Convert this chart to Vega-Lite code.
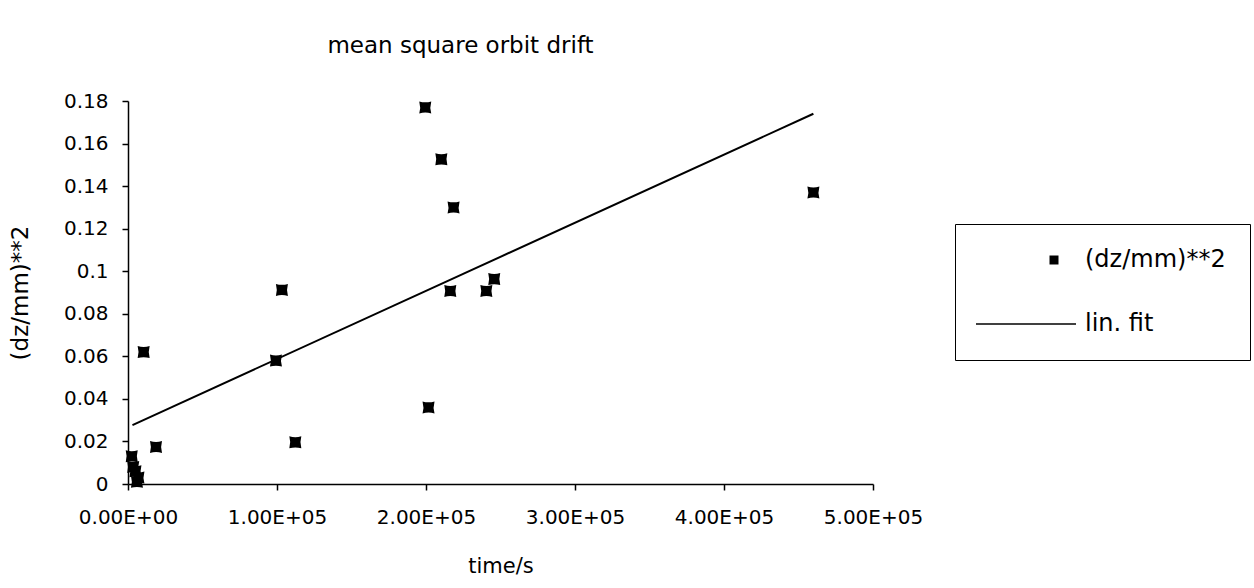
{
  "$schema": "https://vega.github.io/schema/vega-lite/v6.json",
  "width": 745,
  "height": 383,
  "autosize": "none",
  "padding": {"left": 128, "top": 101, "right": 381, "bottom": 104},
  "background": "white",
  "title": {"text": "mean square orbit drift", "font": "DejaVu Sans", "fontSize": 23, "fontWeight": "normal", "color": "black", "anchor": "middle", "dx": -40, "offset": 33},
  "config": {
    "view": {"stroke": null},
    "axis": {"grid": false, "domainColor": "black", "domainWidth": 1.5, "tickColor": "black", "tickWidth": 1.5, "tickSize": 6, "labelFont": "DejaVu Sans", "labelFontSize": 20, "labelColor": "black", "titleFont": "DejaVu Sans", "titleFontSize": 21, "titleFontWeight": "normal", "titleColor": "black"}
  },
  "layer": [
    {
      "data": {"values": [
        {"time": 2500, "msq": 0.013},
        {"time": 3500, "msq": 0.008},
        {"time": 5000, "msq": 0.006},
        {"time": 7000, "msq": 0.003},
        {"time": 6000, "msq": 0.001},
        {"time": 10500, "msq": 0.062},
        {"time": 18800, "msq": 0.0174},
        {"time": 99300, "msq": 0.058},
        {"time": 103300, "msq": 0.0912},
        {"time": 112300, "msq": 0.0196},
        {"time": 199500, "msq": 0.177},
        {"time": 201700, "msq": 0.036},
        {"time": 210300, "msq": 0.1526},
        {"time": 216300, "msq": 0.0907},
        {"time": 218500, "msq": 0.130},
        {"time": 240500, "msq": 0.0907},
        {"time": 245800, "msq": 0.0963},
        {"time": 460000, "msq": 0.137}
      ]},
      "mark": {"type": "point", "shape": "M-1,-1Q0,-0.7,1,-1Q0.7,0,1,1Q0,0.7,-1,1Q-0.7,0,-1,-1Z", "filled": true, "size": 144, "color": "black", "opacity": 1},
      "encoding": {
        "x": {"field": "time", "type": "quantitative", "scale": {"domain": [0, 500000], "nice": false}, "axis": {"title": "time/s", "values": [0, 100000, 200000, 300000, 400000, 500000], "labelExpr": "replace(upper(format(datum.value, '.2e')), 'E+', 'E+0')", "labelPadding": 17, "titlePadding": 28, "labelFlush": false}},
        "y": {"field": "msq", "type": "quantitative", "scale": {"domain": [0, 0.18], "nice": false}, "axis": {"title": "(dz/mm)**2", "titleFontSize": 23, "values": [0, 0.02, 0.04, 0.06, 0.08, 0.1, 0.12, 0.14, 0.16, 0.18], "format": ".2~f", "labelPadding": 14, "titlePadding": 31}}
      }
    },
    {
      "data": {"values": [
        {"time": 3000, "msq": 0.0277},
        {"time": 460000, "msq": 0.174}
      ]},
      "mark": {"type": "line", "color": "black", "strokeWidth": 2},
      "encoding": {
        "x": {"field": "time", "type": "quantitative"},
        "y": {"field": "msq", "type": "quantitative"}
      }
    },
    {
      "data": {"values": [
        {"series": "(dz/mm)**2"},
        {"series": "lin. fit"}
      ]},
      "mark": {"type": "point", "filled": true, "opacity": 0, "color": "black"},
      "encoding": {
        "shape": {"field": "series", "type": "nominal", "scale": {"domain": ["(dz/mm)**2", "lin. fit"], "range": ["M5.85,-0.45H6.75V0.45H5.85Z", "M-1.5,-0.08H8.5V0.08H-1.5Z"]},
          "legend": {"title": null, "orient": "none", "legendX": 827, "legendY": 123, "padding": 24, "strokeColor": "black", "fillColor": "white", "symbolSize": 400, "symbolOpacity": 1, "symbolFillColor": "black", "symbolStrokeColor": "black", "symbolStrokeWidth": 0.5, "labelFont": "DejaVu Sans", "labelFontSize": 24, "labelColor": "black", "labelOffset": 82, "rowPadding": 40, "labelLimit": 300}}
      }
    }
  ]
}
